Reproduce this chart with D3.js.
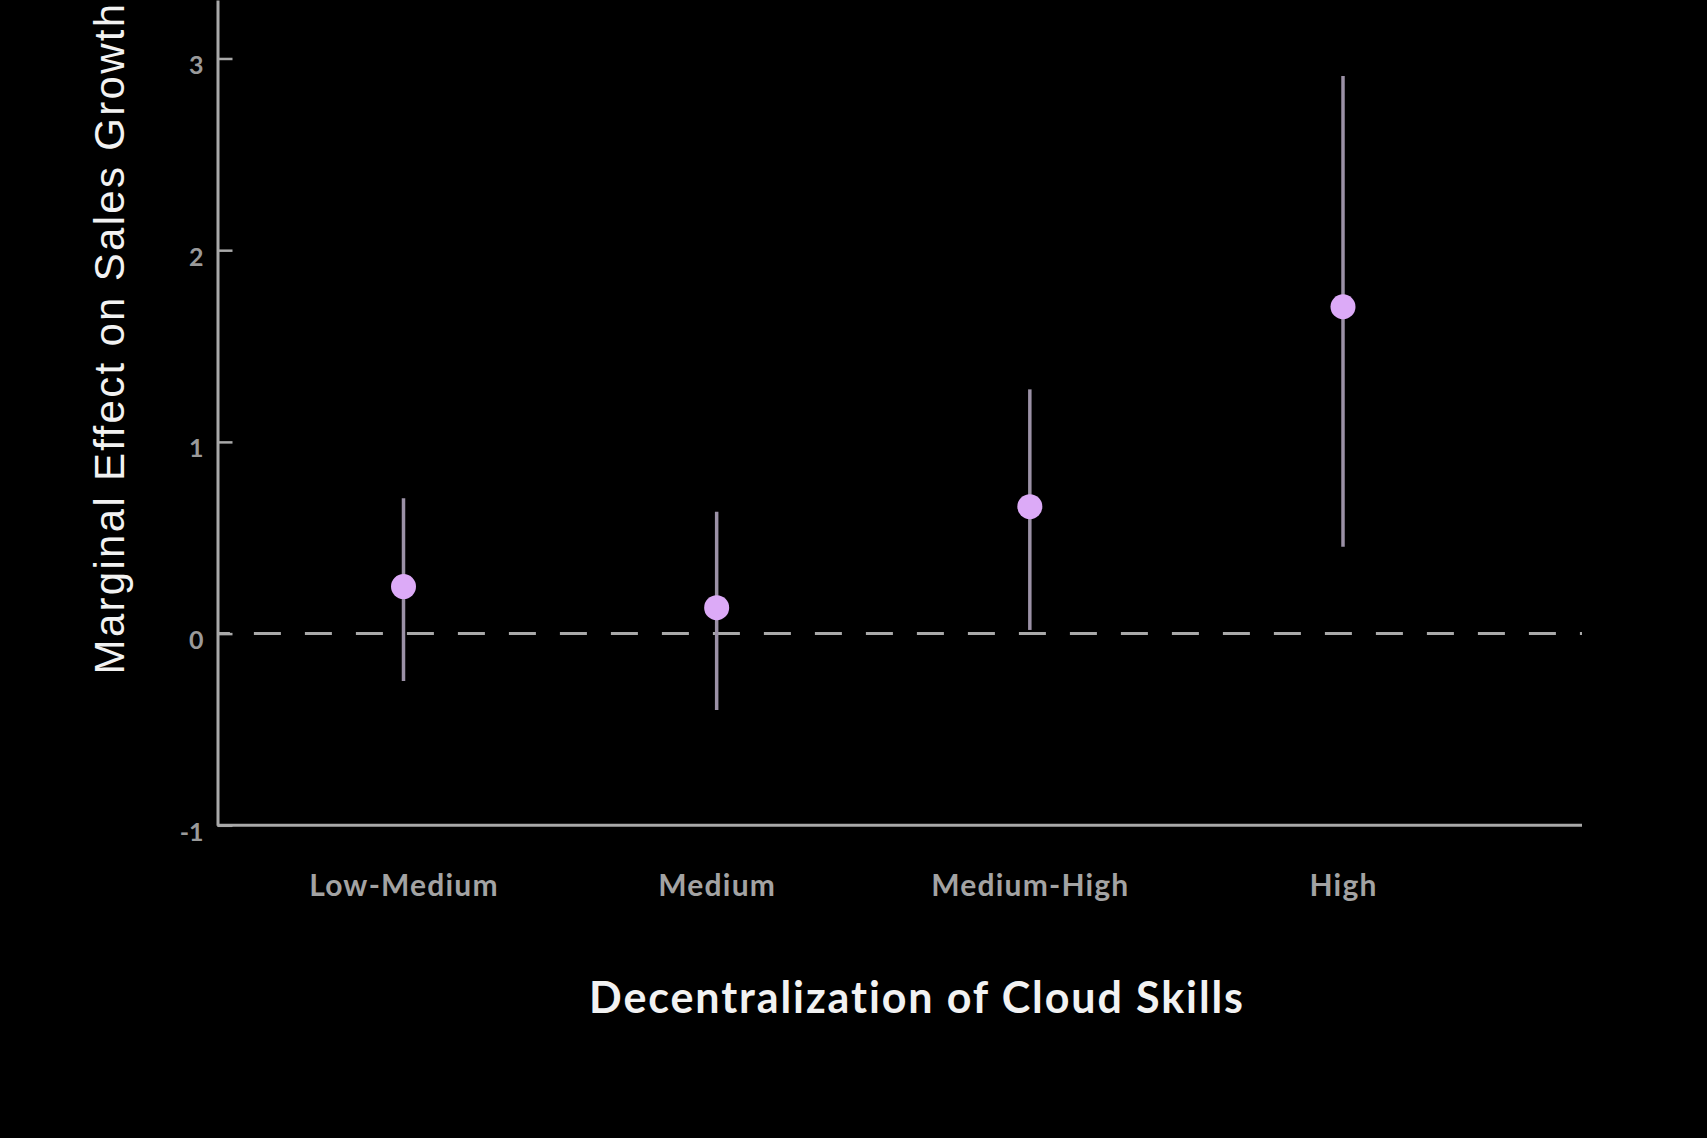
<!DOCTYPE html>
<html>
<head>
<meta charset="utf-8">
<script src="https://cdn.jsdelivr.net/npm/d3@7"></script>
<style>
  html, body { margin: 0; padding: 0; background: #000; }
  svg { display: block; }
</style>
</head>
<body>
<div id="chart"></div>
<script>
// ---- data ----
const categories = ["Low-Medium", "Medium", "Medium-High", "High"];
const estimates  = [0.245, 0.135, 0.662, 1.705];
const lowerCI    = [-0.247, -0.399, 0.019, 0.453];
const upperCI    = [0.706, 0.636, 1.274, 2.909];
const yTicks     = [-1, 0, 1, 2, 3];
const yTickLabels = ["-1", "0", "1", "2", "3"];
const yDomain    = [-1, 3.305];
const xTitle = "Decentralization of Cloud Skills";
const yTitle = "Marginal Effect on Sales Growth";

// ---- layout ----
const W = 1707, H = 1138;
const plot = { left: 217.5, right: 1582, top: 0, bottom: 825.3 };

const svg = d3.select("#chart").append("svg")
  .attr("width", W).attr("height", H)
  .style("background", "#000");

const x = d3.scalePoint()
  .domain(categories)
  .range([plot.left + 186, plot.right - 239]);

const y = d3.scaleLinear()
  .domain(yDomain)
  .range([plot.bottom, plot.top]);

const axisColor = "#a9a9a9";

// y axis
const yAxis = svg.append("g")
  .attr("transform", `translate(${plot.left},0)`)
  .call(d3.axisLeft(y).tickValues(yTicks)
        .tickFormat((d, i) => yTickLabels[i])
        .tickSize(-15).tickSizeOuter(0).tickPadding(14));
yAxis.select(".domain").attr("stroke", axisColor).attr("stroke-width", 3);
yAxis.selectAll(".tick line").attr("stroke", axisColor).attr("stroke-width", 2.5);
yAxis.selectAll(".tick text")
  .attr("fill", "#9a9a9a")
  .attr("dy", "0.6em")
  .style("font-family", "Lato, 'Open Sans', sans-serif")
  .style("font-weight", "700")
  .style("font-size", "25px");

// x axis line
svg.append("line")
  .attr("x1", plot.left).attr("x2", plot.right)
  .attr("y1", y(yDomain[0])).attr("y2", y(yDomain[0]))
  .attr("stroke", axisColor).attr("stroke-width", 3);

// x tick labels
const xAxis = svg.append("g")
  .attr("transform", `translate(0,${y(yDomain[0])})`)
  .call(d3.axisBottom(x).tickSize(0).tickPadding(49));
xAxis.select(".domain").remove();
xAxis.selectAll(".tick text")
  .attr("fill", "#a3a3a3")
  .style("font-family", "Lato, 'Open Sans', sans-serif")
  .style("font-weight", "700")
  .style("font-size", "30px")
  .style("letter-spacing", "1.2px");

// zero reference line
svg.append("line")
  .attr("x1", plot.left).attr("x2", plot.right)
  .attr("y1", y(0)).attr("y2", y(0))
  .attr("stroke", axisColor).attr("stroke-width", 3)
  .attr("stroke-dasharray", "27,24")
  .attr("stroke-dashoffset", 14.6);

// data
const rows = categories.map((c, i) => ({ c, est: estimates[i], lo: lowerCI[i], hi: upperCI[i] }));

svg.append("g").selectAll("line")
  .data(rows).join("line")
  .attr("x1", d => x(d.c)).attr("x2", d => x(d.c))
  .attr("y1", d => y(d.lo)).attr("y2", d => y(d.hi))
  .attr("stroke", "#9b91a6").attr("stroke-width", 3.5);

svg.append("g").selectAll("circle")
  .data(rows).join("circle")
  .attr("cx", d => x(d.c)).attr("cy", d => y(d.est))
  .attr("r", 12.5)
  .attr("fill", "#dcaaf7");

// titles
svg.append("text")
  .attr("x", 917).attr("y", 1013)
  .attr("text-anchor", "middle")
  .attr("fill", "#f2f2f2")
  .style("font-family", "Lato, 'Open Sans', sans-serif")
  .style("font-weight", "700")
  .style("font-size", "43px")
  .style("letter-spacing", "1.9px")
  .text(xTitle);

svg.append("text")
  .attr("transform", `translate(124,338) rotate(-90)`)
  .attr("text-anchor", "middle")
  .attr("fill", "#f2f2f2")
  .style("font-family", "'Liberation Sans', Arial, sans-serif")
  .style("font-size", "42px")
  .style("letter-spacing", "2.3px")
  .text(yTitle);
</script>
</body>
</html>
